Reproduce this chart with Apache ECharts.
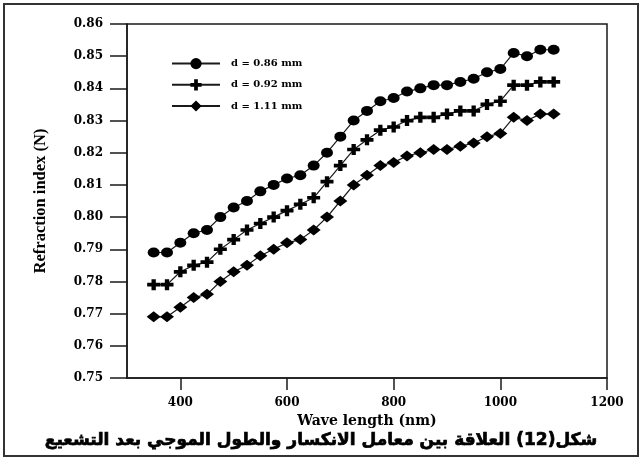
<!DOCTYPE html>
<html lang="ar">
<head>
  <meta charset="UTF-8">
  <title>Refraction index vs wave length</title>
  <script src="https://cdn.jsdelivr.net/npm/echarts@6/dist/echarts.min.js"></script>
  <style>
    html, body { margin: 0; padding: 0; background: #fff; }
    #chart { width: 642px; height: 461px; }
  </style>
</head>
<body>
  <div id="chart"></div>
  <script>
    // wave length (nm)
    const waveLength = [350, 375, 400, 425, 450, 475, 500, 525, 550, 575, 600, 625, 650, 675, 700, 725,
      750, 775, 800, 825, 850, 875, 900, 925, 950, 975, 1000, 1025, 1050, 1075, 1100];
    // refraction index for each thickness
    const n086 = [0.789, 0.789, 0.792, 0.795, 0.796, 0.800, 0.803, 0.805, 0.808, 0.810, 0.812, 0.813, 0.816, 0.820, 0.825, 0.830,
      0.833, 0.836, 0.837, 0.839, 0.840, 0.841, 0.841, 0.842, 0.843, 0.845, 0.846, 0.851, 0.850, 0.852, 0.852];
    const n092 = [0.779, 0.779, 0.783, 0.785, 0.786, 0.790, 0.793, 0.796, 0.798, 0.800, 0.802, 0.804, 0.806, 0.811, 0.816, 0.821,
      0.824, 0.827, 0.828, 0.830, 0.831, 0.831, 0.832, 0.833, 0.833, 0.835, 0.836, 0.841, 0.841, 0.842, 0.842];
    const n111 = [0.769, 0.769, 0.772, 0.775, 0.776, 0.780, 0.783, 0.785, 0.788, 0.790, 0.792, 0.793, 0.796, 0.800, 0.805, 0.810,
      0.813, 0.816, 0.817, 0.819, 0.820, 0.821, 0.821, 0.822, 0.823, 0.825, 0.826, 0.831, 0.830, 0.832, 0.832];
    const seriesNames = ['d = 0.86 mm', 'd = 0.92 mm', 'd = 1.11 mm'];
    const xTickValues = [400, 600, 800, 1000, 1200];
    const caption = 'شكل(12) العلاقة بين معامل الانكسار والطول الموجي بعد التشعيع';

    const plusPath = 'path://M4,0H8V4H12V8H8V12H4V8H0V4H4Z';
    const ink = '#1a1a1a';
    const serifWide = 'DejaVu Serif';

    function pairs(vals) {
      return waveLength.map((w, i) => [w, vals[i]]);
    }

    function lineSeries(name, vals, symbol, size) {
      return {
        name: name,
        type: 'line',
        data: pairs(vals),
        symbol: symbol,
        symbolSize: size,
        showAllSymbol: true,
        lineStyle: { color: ink, width: 1.2 },
        itemStyle: { color: '#000', borderWidth: 0 },
        emphasis: { disabled: true }
      };
    }

    const chart = echarts.init(document.getElementById('chart'));
    chart.setOption({
      backgroundColor: '#fff',
      animation: false,
      grid: {
        left: 127, right: 35, top: 24, bottom: 83,
        show: true, borderColor: ink, borderWidth: 1.5
      },
      legend: {
        orient: 'vertical',
        left: 166, top: 53,
        itemWidth: 48, itemHeight: 14, itemGap: 10,
        textStyle: { fontFamily: serifWide, fontWeight: 'bold', fontSize: 10, color: '#000', padding: [0, 0, 0, 6] },
        data: seriesNames
      },
      xAxis: {
        type: 'value',
        min: 300, max: 1200,
        name: 'Wave length (nm)',
        nameLocation: 'middle',
        nameGap: 34,
        nameTextStyle: { fontFamily: serifWide, fontWeight: 'bold', fontSize: 14, color: '#000' },
        axisLine: { show: true, lineStyle: { color: ink, width: 1.5 } },
        axisTick: { show: true, length: 12, customValues: xTickValues, lineStyle: { color: ink, width: 1.5 } },
        axisLabel: {
          customValues: xTickValues, margin: 19, fontFamily: serifWide, fontWeight: 'bold', fontSize: 12, color: '#000',
          formatter: v => String(v)
        },
        splitLine: { show: false }
      },
      yAxis: {
        type: 'value',
        min: 0.75, max: 0.86, interval: 0.01,
        name: 'Refraction index (N)',
        nameLocation: 'middle',
        nameGap: 78,
        nameRotate: 90,
        nameTextStyle: { fontFamily: 'Liberation Serif', fontWeight: 'bold', fontSize: 16.5, color: '#000' },
        axisLine: { show: true, lineStyle: { color: ink, width: 1.5 } },
        axisTick: { show: true, length: 17, lineStyle: { color: ink, width: 1.5 } },
        axisLabel: {
          margin: 24, fontFamily: serifWide, fontWeight: 'bold', fontSize: 12, color: '#000',
          formatter: v => v.toFixed(2)
        },
        splitLine: { show: false }
      },
      series: [
        lineSeries(seriesNames[0], n086, 'circle', [12, 10]),
        lineSeries(seriesNames[1], n092, plusPath, [13, 11]),
        lineSeries(seriesNames[2], n111, 'diamond', [14, 11])
      ],
      graphic: [
        {
          type: 'text',
          left: 'center',
          top: 432,
          style: {
            text: caption,
            font: 'bold 17px "DejaVu Sans"',
            fill: '#000',
            stroke: '#000',
            lineWidth: 0.7
          }
        },
        {
          type: 'rect',
          shape: { x: 4, y: 4, width: 634, height: 452 },
          style: { fill: 'none', stroke: '#333', lineWidth: 2 }
        }
      ]
    });
  </script>
</body>
</html>
